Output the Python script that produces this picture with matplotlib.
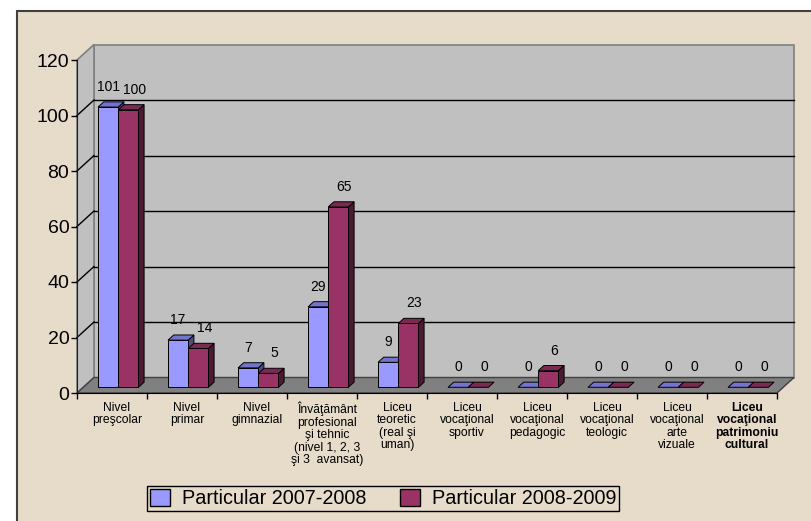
import matplotlib.pyplot as plt
from matplotlib.patches import Polygon, Rectangle, Patch

plt.rcParams['font.family'] = ['Liberation Sans', 'DejaVu Sans']

categories = [
    'Nivel\npreşcolar',
    'Nivel\nprimar',
    'Nivel\ngimnazial',
    'Învăţământ\nprofesional\nşi tehnic\n(nivel 1, 2, 3\nşi 3  avansat)',
    'Liceu\nteoretic\n(real şi\numan)',
    'Liceu\nvocaţional\nsportiv',
    'Liceu\nvocaţional\npedagogic',
    'Liceu\nvocaţional\nteologic',
    'Liceu\nvocaţional\narte\nvizuale',
    'Liceu\nvocaţional\npatrimoniu\ncultural',
]
val_0708 = [101, 17, 7, 29, 9, 0, 0, 0, 0, 0]
val_0809 = [100, 14, 5, 65, 23, 0, 6, 0, 0, 0]
series_names = ['Particular 2007-2008', 'Particular 2008-2009']
yticks = [0, 20, 40, 60, 80, 100, 120]

BG = '#E6DCC9'
WALL = '#C0C0C0'
FLOOR = '#808080'
# front / top / side shades for each series
shades = [
    ('#9999FF', '#7474D0', '#4D4D80'),
    ('#993366', '#7A2952', '#4D1A33'),
]

W, H = 812, 521
fig = plt.figure(figsize=(W / 100, H / 100), dpi=100)
fig.patch.set_facecolor('white')
fig.patches.append(Rectangle((17 / W, -0.1), 1.0, 1.1 - 11 / H, transform=fig.transFigure,
                             facecolor=BG, edgecolor='#404040', linewidth=1.5, zorder=-5))

ax = fig.add_axes([77 / W, (H - 393) / H, 700 / W, 333 / H])
ax.set_xlim(0, len(categories))
ax.set_ylim(0, 120)
ax.patch.set_visible(False)

# depth of the 3d box in data units
DX = 17 / 70
DY = 15.5 * 120 / 333
n = len(categories)
ymax = yticks[-1]


def poly(pts, fc, ec, lw=0.8, z=1):
    ax.add_patch(Polygon(pts, closed=True, facecolor=fc, edgecolor=ec, linewidth=lw,
                         clip_on=False, zorder=z))


# walls and floor
poly([(DX, DY), (n + DX, DY), (n + DX, ymax + DY), (DX, ymax + DY)], WALL, '#808080', 1.2, 0.5)
poly([(0, 0), (DX, DY), (DX, ymax + DY), (0, ymax)], WALL, '#808080', 1.2, 0.5)
poly([(0, 0), (n, 0), (n + DX, DY), (DX, DY)], FLOOR, '#404040', 1.0, 0.6)
for v in yticks[1:-1]:
    ax.plot([DX, n + DX], [v + DY, v + DY], color='black', lw=1.0, clip_on=False, zorder=0.7)
    ax.plot([0, DX], [v, v + DY], color='black', lw=1.0, clip_on=False, zorder=0.7)

# bars
d0, d1 = 0.367, 0.70
bw = 20.2 / 70
for i in range(n):
    x_start = i + 0.5 - bw
    for s, vals in enumerate([val_0708, val_0809]):
        h = vals[i]
        x0 = x_start + s * bw
        x1 = x0 + bw
        front, top, side = shades[s]
        z = 2 + i * 0.01 + s * 0.001
        fx0, fx1, fy = x0 + d0 * DX, x1 + d0 * DX, d0 * DY
        bx0, bx1, by = x0 + d1 * DX, x1 + d1 * DX, d1 * DY
        if h > 0:
            poly([(fx1, fy), (bx1, by), (bx1, h + by), (fx1, h + fy)], side, 'black', 0.7, z)
            poly([(fx0, fy), (fx1, fy), (fx1, h + fy), (fx0, h + fy)], front, 'black', 0.7, z)
        poly([(fx0, h + fy), (fx1, h + fy), (bx1, h + by), (bx0, h + by)], top, 'black', 0.7, z)
        ax.annotate(str(h), (fx0 + bw / 2, h + fy), xytext=(0 if s == 0 else 6, 20),
                    textcoords='offset pixels', ha='center', va='center', fontsize=10,
                    annotation_clip=False, zorder=5)

# axes
for sp in ['top', 'right']:
    ax.spines[sp].set_visible(False)
ax.spines['left'].set_color('#202020')
ax.spines['bottom'].set_color('black')
ax.spines['left'].set_zorder(1.5)
ax.spines['bottom'].set_zorder(1.5)
ax.set_yticks(yticks)
ax.set_yticklabels([str(v) for v in yticks], fontsize=14)
ax.set_xticks(range(n + 1))
ax.set_xticklabels([])
ax.tick_params(axis='both', direction='out', length=4.5, width=1, color='black', pad=1)

for i, lab in enumerate(categories):
    ax.annotate(lab, (i + 0.5, 0), xytext=(5, -9), textcoords='offset pixels',
                ha='center', va='top', fontsize=8.7, linespacing=1.05,
                fontweight='bold' if i == n - 1 else 'normal', annotation_clip=False)

handles = [Patch(facecolor=shades[k][0], edgecolor='black', linewidth=1, label=series_names[k])
           for k in range(2)]
leg = fig.legend(handles=handles, loc='center', bbox_to_anchor=(383 / W, 1 - 498.5 / H), ncol=2,
                 fontsize=14.3, frameon=True, fancybox=False, edgecolor='black', facecolor=BG,
                 framealpha=1, handlelength=1.0, handleheight=1.0, handletextpad=0.6,
                 columnspacing=1.7, borderpad=0.15, borderaxespad=0)
leg.get_frame().set_linewidth(1)

fig.savefig('out.png', dpi=100)
